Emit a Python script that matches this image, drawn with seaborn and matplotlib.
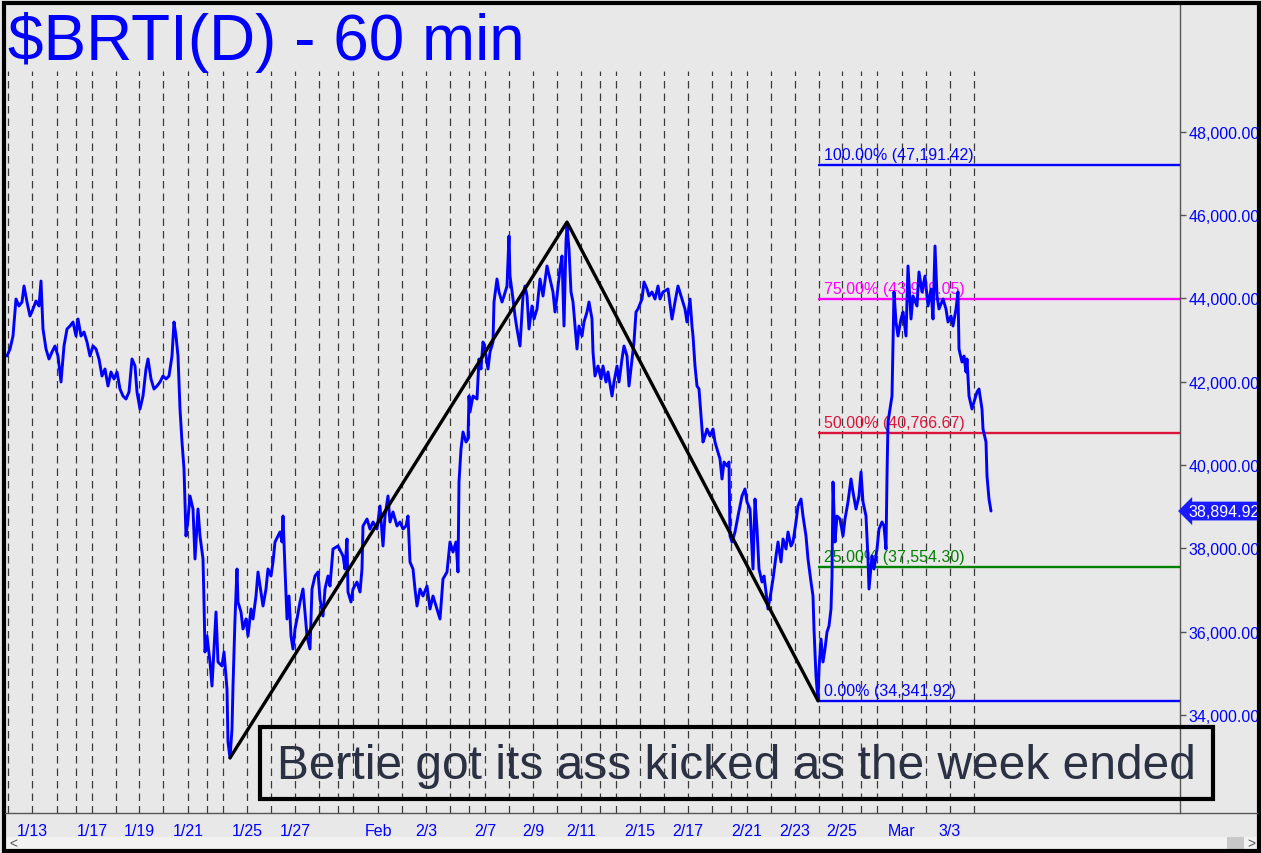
import matplotlib
matplotlib.use("Agg")
import matplotlib.pyplot as plt
import matplotlib.ticker as mticker
import matplotlib.transforms as mtrans
from matplotlib.patches import Rectangle
from matplotlib.lines import Line2D
import pandas as pd
import seaborn as sns

# hourly bar index and $BRTI price
bar = [7, 10, 13, 16, 19, 22, 24, 27, 30, 33, 36, 39, 41, 43, 46, 49, 52, 55, 58, 61,
       64, 67, 70, 73, 76, 78, 81, 84, 87, 90, 93, 96, 99, 102, 105, 108, 111, 114, 117, 120,
       123, 126, 129, 132, 135, 137, 140, 143, 146, 148, 151, 154, 157, 160, 163, 166, 169, 172, 174, 176,
       178, 180, 182, 184, 185, 186, 188, 190, 193, 195, 198, 200, 203, 204, 205, 207, 210, 212, 216, 218,
       222, 224, 227, 228, 230, 232, 233, 235, 237, 238, 241, 243, 246, 248, 251, 253, 256, 258, 261, 263,
       266, 268, 271, 273, 275, 278, 280, 282, 283, 285, 287, 289, 291, 293, 295, 297, 300, 303, 305, 307,
       310, 312, 315, 318, 320, 323, 325, 328, 330, 333, 338, 343, 345, 347, 348, 351, 353, 357, 360, 362,
       363, 367, 370, 373, 377, 380, 383, 385, 388, 390, 393, 397, 400, 403, 406, 408, 410, 413, 415, 417,
       420, 423, 427, 430, 433, 437, 440, 443, 447, 450, 453, 456, 458, 459, 461, 463, 466, 468, 469, 470,
       473, 477, 479, 481, 483, 485, 488, 490, 493, 494, 497, 499, 502, 504, 507, 509, 510, 513, 515, 517,
       520, 523, 525, 527, 529, 532, 534, 537, 540, 543, 547, 550, 553, 555, 557, 560, 562, 564, 566, 567,
       569, 571, 573, 575, 577, 579, 582, 584, 587, 589, 592, 593, 595, 598, 601, 603, 606, 608, 612, 614,
       617, 619, 622, 624, 627, 629, 632, 634, 636, 638, 642, 644, 647, 649, 652, 655, 658, 660, 663, 668,
       672, 675, 678, 682, 685, 687, 690, 692, 693, 695, 697, 699, 701, 703, 705, 707, 710, 713, 715, 717,
       720, 722, 724, 727, 729, 730, 732, 735, 738, 742, 745, 747, 750, 753, 755, 757, 759, 762, 764, 766,
       768, 771, 773, 776, 778, 781, 783, 786, 788, 791, 793, 796, 798, 801, 803, 806, 808, 811, 813, 814,
       816, 818, 819, 821, 823, 825, 827, 829, 831, 832, 833, 835, 837, 840, 843, 845, 848, 851, 853, 856,
       859, 861, 863, 866, 868, 869, 872, 874, 877, 879, 882, 884, 886, 887, 888, 890, 892, 893, 894, 896,
       898, 901, 903, 906, 908, 911, 913, 917, 919, 922, 925, 928, 931, 933, 935, 937, 939, 943, 946, 948,
       951, 953, 956, 958, 959, 962, 964, 966, 967, 969, 972, 974, 977, 979, 982, 983, 986, 987, 989, 991]

price = [42616, 42784, 43096, 43984, 43816, 43912, 44296, 43912, 43576, 43744, 43936, 43816, 44416, 43264, 42784, 42544, 42712, 42856, 42616, 41992,
         42856, 43264, 43336, 43432, 43096, 43504, 43096, 43192, 42952, 42616, 42856, 42784, 42544, 42136, 42304, 41896, 42232, 42064, 42232, 41824,
         41656, 41584, 41752, 42544, 42376, 41752, 41344, 41656, 42304, 42544, 42064, 41824, 41896, 41992, 42136, 42064, 42136, 42616, 43432, 43096,
         42616, 41344, 40552, 39904, 39112, 38296, 38704, 39256, 38944, 37744, 38944, 38296, 37744, 36712, 35512, 35896, 35272, 34696, 36472, 35272,
         35176, 35512, 34624, 33352, 32970, 33664, 34696, 36304, 37504, 36712, 36472, 36064, 36304, 35896, 36544, 36304, 36856, 37432, 36952, 36616,
         37024, 37504, 37336, 37672, 38152, 38296, 38392, 38152, 38776, 37504, 36304, 36856, 35896, 35584, 36064, 36304, 36712, 37024, 36472, 35896,
         35584, 37024, 37336, 37432, 36784, 36376, 37024, 37336, 37096, 37984, 38056, 37816, 37504, 38224, 36952, 36712, 37024, 37192, 36952, 37504,
         38536, 38704, 38464, 38632, 38464, 39016, 38056, 38776, 39256, 38632, 38872, 38536, 38632, 38464, 38536, 38776, 37672, 37504, 37024, 36616,
         37024, 36856, 37096, 36544, 36856, 36544, 36304, 37264, 37432, 38152, 37912, 38152, 37432, 39592, 40384, 40792, 40552, 40624, 41656, 41272,
         41656, 41584, 42544, 42304, 42952, 42784, 42304, 42712, 42952, 43912, 44464, 44152, 43912, 44056, 44296, 45496, 44536, 43984, 43576, 43264,
         42856, 44056, 44296, 44056, 43264, 43816, 43504, 43744, 44464, 44056, 44776, 44464, 44152, 43672, 44056, 44704, 45016, 43336, 45352, 45736,
         45184, 44152, 43912, 43336, 42784, 43336, 43096, 43432, 43672, 43912, 43504, 42712, 42136, 42376, 42064, 42376, 41992, 42232, 41656, 41992,
         42376, 41992, 42544, 42856, 42616, 41896, 42544, 42952, 43672, 43744, 43984, 44392, 44224, 44056, 44152, 43984, 44296, 43984, 44152, 44224,
         43504, 43912, 44296, 43984, 43744, 43432, 43984, 43336, 43096, 42376, 41896, 41824, 41176, 40552, 40696, 40864, 40696, 40864, 40552, 40384,
         40144, 39664, 40072, 39976, 40072, 38296, 38152, 38392, 38776, 39256, 39424, 39112, 38944, 37504, 39184, 38464, 37504, 37192, 37336, 36952,
         36544, 36952, 37264, 37816, 38152, 37672, 38224, 37984, 38392, 38056, 38152, 38632, 39016, 39184, 38776, 38296, 37744, 37192, 36856, 36064,
         34936, 34342, 35104, 35824, 35272, 35584, 35992, 36136, 36544, 37336, 39592, 38152, 38776, 38704, 38296, 38704, 39112, 39664, 39352, 38944,
         39256, 39832, 39112, 38776, 37744, 37024, 37816, 37504, 37984, 38464, 38632, 38536, 37984, 39736, 41032, 41344, 41656, 42952, 44152, 43432,
         43096, 43504, 43672, 43096, 44776, 43504, 44056, 43816, 44632, 44152, 44536, 43816, 44224, 43504, 45256, 44056, 43744, 43984, 43744, 43432,
         43576, 43336, 43744, 44152, 42784, 42472, 42616, 42232, 42544, 41656, 41344, 41512, 41752, 41824, 41344, 40864, 40552, 39736, 39184, 38894.92]

# day separators and date labels (bar index)
day_lines = [8, 32, 57, 76, 92, 116, 139, 163, 188, 207, 223, 247, 271, 295, 319, 338, 353, 378, 402, 426,
             450, 469, 485, 509, 533, 557, 581, 600, 616, 640, 664, 688, 712, 731, 747, 771, 795, 819, 842, 861,
             877, 902, 926, 950, 974]
date_pos = [32, 92, 139, 188, 247, 295, 378, 426, 485, 533, 581, 640, 688, 747, 795, 842, 902, 950]
date_labels = ["1/13", "1/17", "1/19", "1/21", "1/25", "1/27", "Feb", "2/3", "2/7", "2/9", "2/11",
               "2/15", "2/17", "2/21", "2/23", "2/25", "Mar", "3/3"]

# ABC swing and retracement levels
swing_bar = [230, 567, 818]
swing_price = [32970, 45830, 34341.92]
fib_pct = ["0.00%", "25.00%", "50.00%", "75.00%", "100.00%"]
fib_level = [34341.92, 37554.30, 40766.67, 43979.05, 47191.42]
fib_color = ["#0000ff", "#008000", "#dc143c", "#ff00ff", "#0000ff"]
fib_start = 818

last_price = 38894.92

BG = "#e8e8e8"
BLUE = "#0000ff"
W, H = 1261, 854

sns.set_style("white", {"axes.facecolor": BG, "figure.facecolor": BG})
plt.rcParams["font.family"] = ["Liberation Sans", "DejaVu Sans"]

fig = plt.figure(figsize=(W / 100, H / 100), dpi=100, facecolor=BG)
ax = fig.add_axes([5 / W, 40 / H, 1175 / W, 809 / H])
ax.set_facecolor(BG)
ax.set_xlim(5, 1180)
ax.set_ylim(31648, 51064)

ax.vlines(day_lines, 31648, 49456, colors="#3a3a3a", linewidth=0.9,
          linestyles=[(0, (6, 4))], zorder=1)

df = pd.DataFrame({"bar": bar, "price": price})
sns.lineplot(data=df, x="bar", y="price", color=BLUE, linewidth=2.1,
             estimator=None, sort=False, ax=ax, zorder=3)
sns.lineplot(x=swing_bar, y=swing_price, color="black", linewidth=2.4,
             estimator=None, sort=False, ax=ax, zorder=4)

for pct, lvl, col in zip(fib_pct, fib_level, fib_color):
    ax.hlines(lvl, fib_start, 1180, colors=col, linewidth=1.7, zorder=2)
    ax.annotate(f"{pct} ({lvl:,.2f})", xy=(824, lvl), xytext=(0, 4.3),
                textcoords="offset points", color=col, fontsize=11.5,
                va="baseline", ha="left", zorder=2)

ax.set_xlabel("")
ax.set_ylabel("")
for side in ["top", "left", "bottom"]:
    ax.spines[side].set_visible(False)
ax.spines["right"].set_color("#555555")
ax.spines["right"].set_linewidth(1)

ax.yaxis.tick_right()
ax.set_yticks(range(34000, 48001, 2000))
ax.yaxis.set_major_formatter(mticker.FuncFormatter(lambda v, p: f"{v:,.2f}"))
ax.tick_params(axis="y", length=4, width=1, color="#555555", pad=2,
               labelcolor=BLUE, labelsize=11.5)

ax.set_xticks(date_pos)
ax.set_xticklabels(date_labels)
ax.set_xticks([d for d in day_lines if d not in date_pos], minor=True)
ax.tick_params(axis="x", which="major", length=0, pad=7, labelcolor=BLUE, labelsize=11.5)
ax.tick_params(axis="x", which="minor", length=6, width=0.9, color="#444444")

# last price tag
tr = mtrans.blended_transform_factory(ax.transAxes, ax.transData)
ax.annotate(f"{last_price:,.2f}", xy=(1.0, last_price), xycoords=tr,
            xytext=(8, 0), textcoords="offset pixels", color="white", fontsize=11.5,
            ha="left", va="center", annotation_clip=False,
            bbox=dict(boxstyle="larrow,pad=0.12", fc="#1a1aff", ec="none"))

# title
fig.text(8 / W, (H - 60) / H, "$BRTI(D) - 60 min", color=BLUE, fontsize=46,
         ha="left", va="baseline")

# comment box
fig.add_artist(Rectangle((260 / W, (H - 800) / H), (1213 - 260) / W, 72 / H,
                         transform=fig.transFigure, fill=False, ec="black", lw=3))
fig.text(277 / W, (H - 779) / H, "Bertie got its ass kicked as the week ended",
         color="#2b3142", fontsize=34.5, ha="left", va="baseline")

# axis base line and scroll bar
fig.add_artist(Line2D([5 / W, 1257 / W], [40 / H, 40 / H], color="#555555", lw=1,
                      transform=fig.transFigure))
fig.add_artist(Rectangle((5 / W, 4 / H), 1252 / W, 12 / H, transform=fig.transFigure,
                         fc="#f2f2f2", ec="none"))
fig.add_artist(Rectangle((1227 / W, 4 / H), 17 / W, 12 / H, transform=fig.transFigure,
                         fc="#c8c8c8", ec="none"))
fig.text(13 / W, 10 / H, "<", color="#555555", fontsize=10, ha="center", va="center")
fig.text(1251 / W, 10 / H, ">", color="#555555", fontsize=10, ha="center", va="center")

# outer frame
fig.add_artist(Rectangle((4 / W, 2 / H), 1255 / W, 848 / H, transform=fig.transFigure,
                         fill=False, ec="black", lw=3))

fig.savefig("out.png", dpi=100, facecolor=BG)
